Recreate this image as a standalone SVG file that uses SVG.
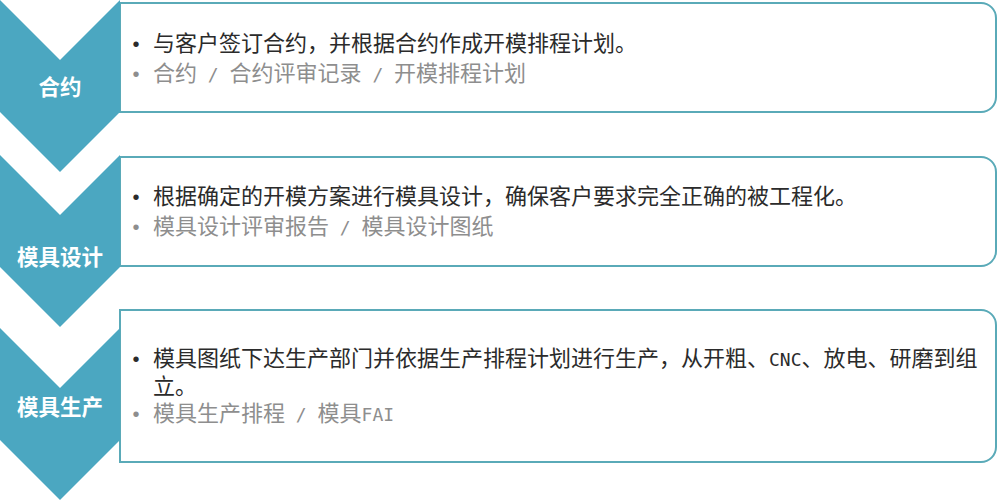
<svg xmlns="http://www.w3.org/2000/svg" width="1000" height="502" viewBox="0 0 1000 502">
<style>
.chev{fill:#4ba7c1}
.box{fill:#ffffff;stroke:#5aaab8;stroke-width:2}
.lbl{font-family:"Noto Sans CJK SC","Noto Sans",sans-serif;font-size:21.5px;font-weight:bold;fill:#ffffff;text-anchor:middle}
.t1{font-family:"Noto Sans CJK SC","Noto Sans",sans-serif;font-size:22px;fill:#2b2b2b}
.t2{font-family:"Noto Sans CJK SC","Noto Sans",sans-serif;font-size:22px;fill:#8e8e8e}
.g{fill:#8e8e8e}
.m{font-family:"DejaVu Sans Mono","Liberation Mono",monospace;font-size:18px}
.b1{font-family:"Liberation Sans",sans-serif;font-size:20px;fill:#2b2b2b;text-anchor:middle}
.b2{font-family:"Liberation Sans",sans-serif;font-size:20px;fill:#8e8e8e;text-anchor:middle}
</style>
<rect width="1000" height="502" fill="#ffffff"/>

<g id="box1">
<path class="box" d="M120,3 H981 A15,15 0 0 1 996,18 V97 A15,15 0 0 1 981,112 H120 Z"/>
<text class="b1" x="136" y="51">•</text>
<text class="t1" x="153" y="51">与客户签订合约，并根据合约作成开模排程计划。</text>
<text class="b2" x="136" y="81">•</text>
<text class="t2" x="153" y="81" xml:space="preserve">合约<tspan class="m"> / </tspan>合约评审记录<tspan class="m"> / </tspan>开模排程计划</text>
</g>

<g id="box2">
<path class="box" d="M120,157 H981 A15,15 0 0 1 996,172 V251 A15,15 0 0 1 981,266 H120 Z"/>
<text class="b1" x="136" y="204">•</text>
<text class="t1" x="153" y="204">根据确定的开模方案进行模具设计，确保客户要求完全正确的被工程化。</text>
<text class="b2" x="136" y="234">•</text>
<text class="t2" x="153" y="234" xml:space="preserve">模具设计评审报告<tspan class="m"> / </tspan>模具设计图纸</text>
</g>

<g id="box3">
<path class="box" d="M120,310 H981 A15,15 0 0 1 996,325 V447 A15,15 0 0 1 981,462 H120 Z"/>
<text class="b1" x="136" y="366">•</text>
<text class="b2" x="136" y="421">•</text>
<text class="t1" x="153" y="366" xml:space="preserve">模具图纸下达生产部门并依据生产排程计划进行生产，从开粗、<tspan class="m">CNC</tspan>、放电、研磨到组<tspan x="153" y="394">立。</tspan><tspan class="g" x="153" y="421">模具生产排程<tspan class="m"> / </tspan>模具<tspan class="m">FAI</tspan></tspan></text>
</g>

<g id="step1">
<polygon class="chev" points="0,0 60,60 120,0 120,112 60,172 0,112"/>
<text class="lbl" x="60" y="95">合约</text>
</g>

<g id="step2">
<polygon class="chev" points="0,155 60,215 120,155 120,267 60,327 0,267"/>
<text class="lbl" x="60" y="265">模具设计</text>
</g>

<g id="step3">
<polygon class="chev" points="0,328 60,388 120,328 120,440 60,500 0,440"/>
<text class="lbl" x="60" y="415">模具生产</text>
</g>
</svg>
